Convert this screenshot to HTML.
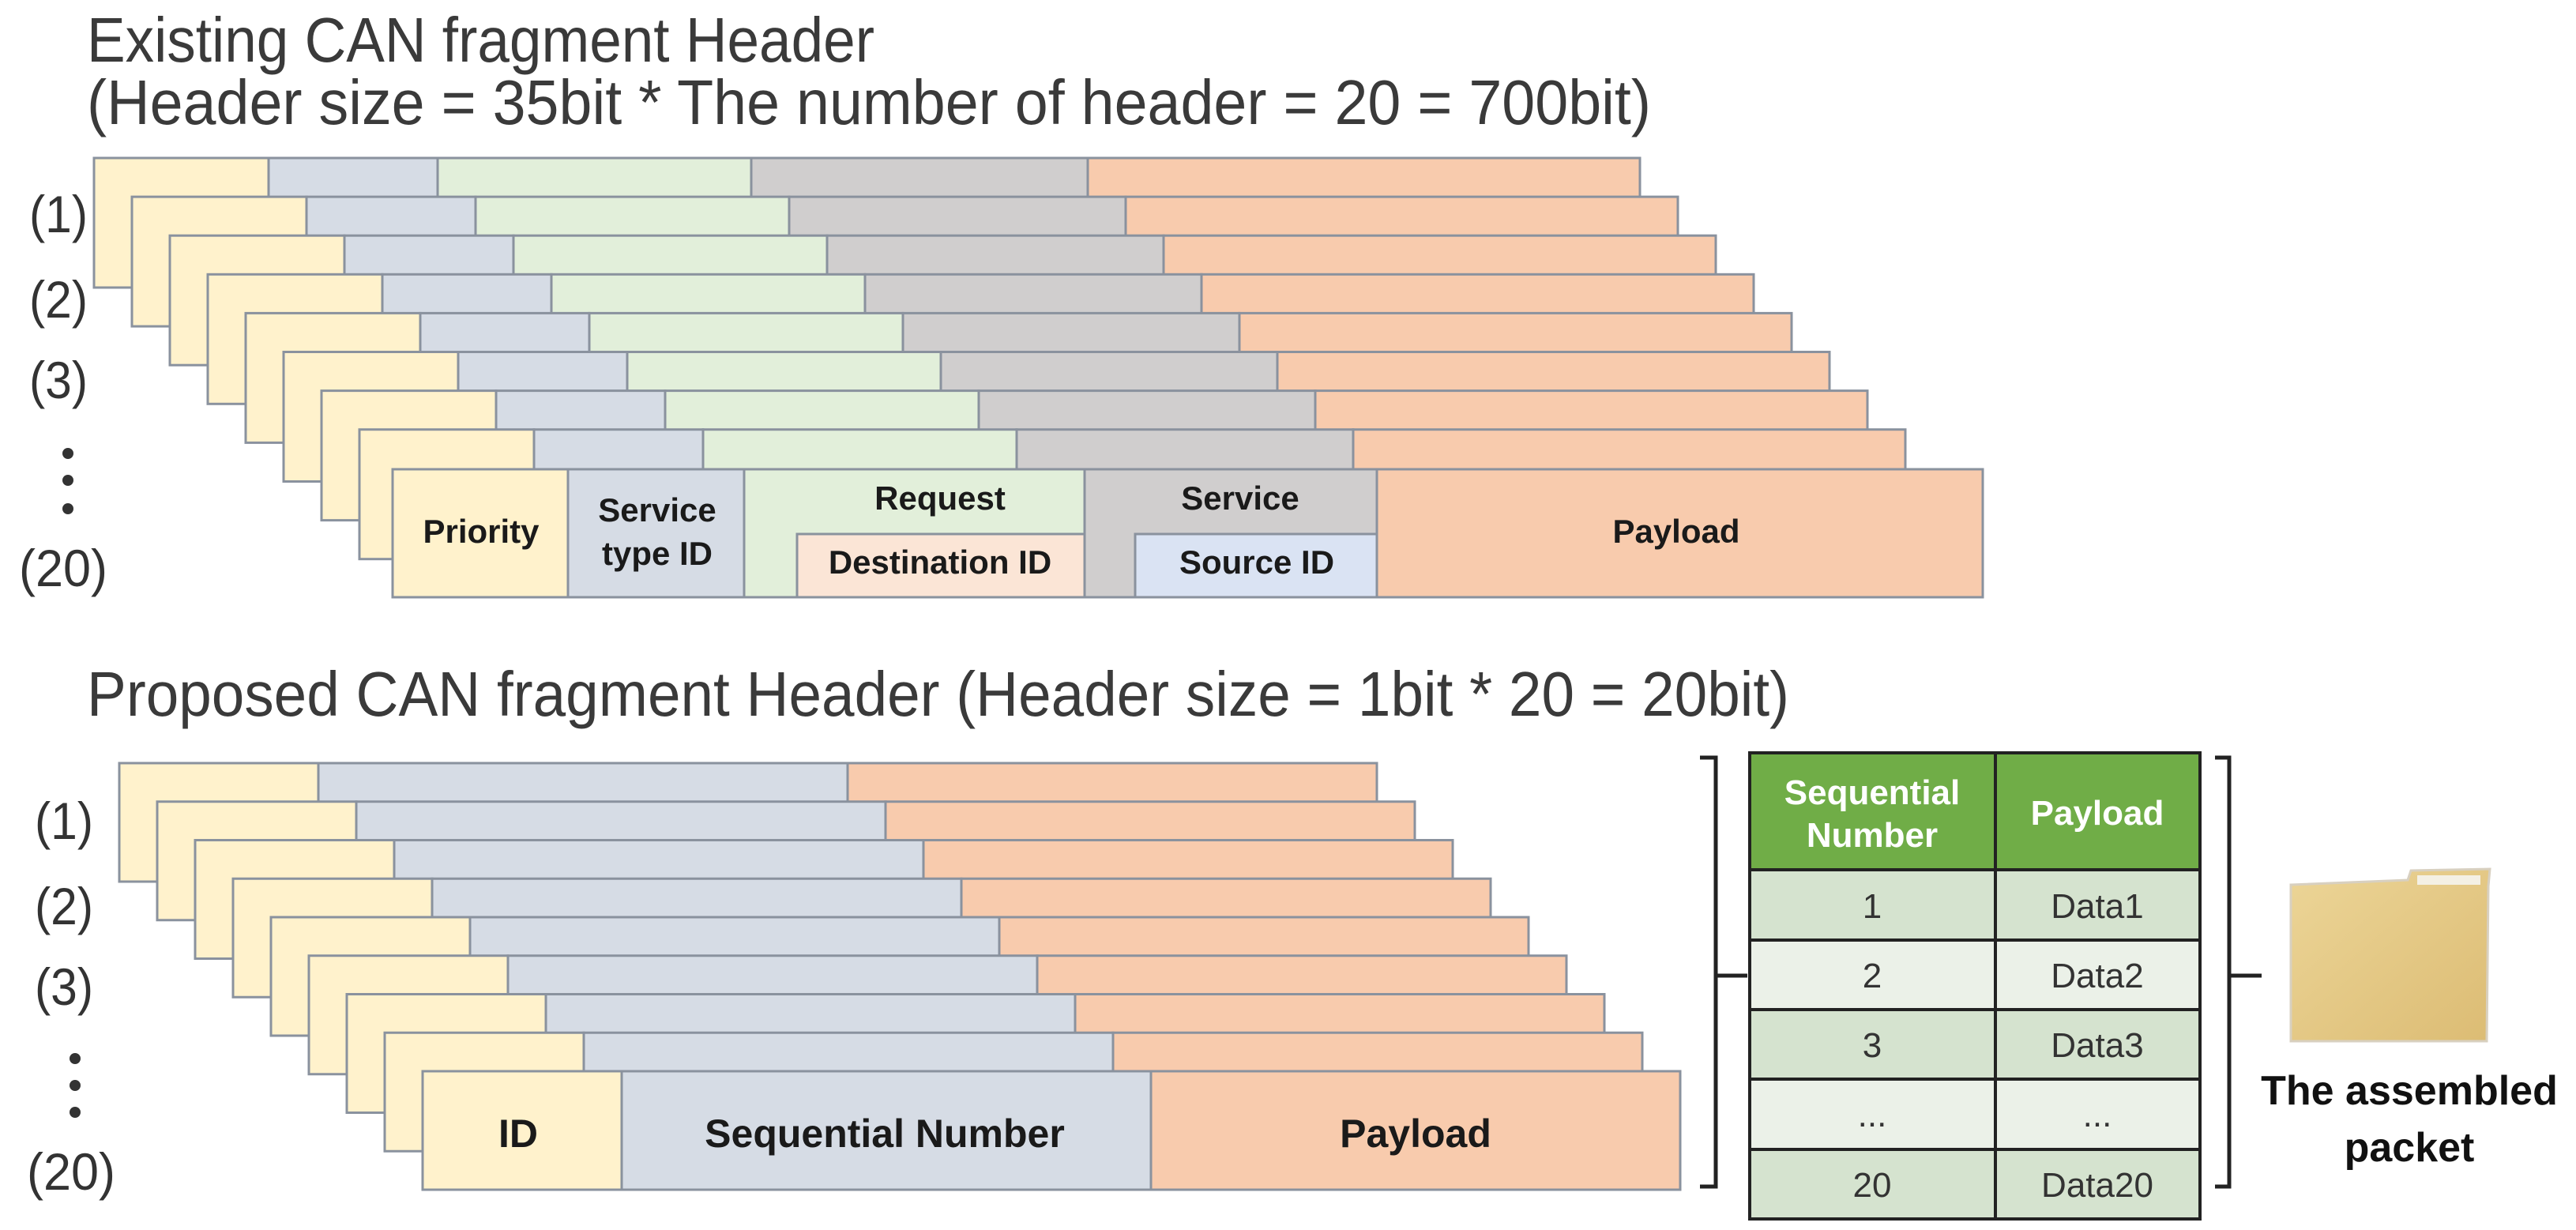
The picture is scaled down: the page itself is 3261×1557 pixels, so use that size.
<!DOCTYPE html>
<html><head><meta charset="utf-8"><style>
html,body{margin:0;padding:0;background:#fff;}
svg{display:block;}
text{font-family:"Liberation Sans",sans-serif;}
</style></head><body>
<svg width="3261" height="1557" viewBox="0 0 3261 1557" xmlns="http://www.w3.org/2000/svg">
<defs>
<linearGradient id="fold" x1="0" y1="0" x2="1" y2="1">
<stop offset="0" stop-color="#ecd597"/><stop offset="1" stop-color="#dcbc74"/>
</linearGradient>
</defs>
<g fill="#3a3a3a" font-size="80">
<text x="110" y="78" textLength="997" lengthAdjust="spacingAndGlyphs">Existing CAN fragment Header</text>
<text x="110" y="157" textLength="1980" lengthAdjust="spacingAndGlyphs">(Header size = 35bit * The number of header = 20 = 700bit)</text>
<text x="110" y="906" textLength="2155" lengthAdjust="spacingAndGlyphs">Proposed CAN fragment Header (Header size = 1bit * 20 = 20bit)</text>
</g>
<g fill="#333" font-size="66" text-anchor="middle">
<text x="74" y="294" textLength="74" lengthAdjust="spacingAndGlyphs">(1)</text><text x="74" y="402" textLength="74" lengthAdjust="spacingAndGlyphs">(2)</text><text x="74" y="504" textLength="74" lengthAdjust="spacingAndGlyphs">(3)</text><text x="80" y="742" textLength="112" lengthAdjust="spacingAndGlyphs">(20)</text>
<circle cx="86" cy="574" r="7"/><circle cx="86" cy="608" r="7"/><circle cx="86" cy="644" r="7"/>
<text x="81" y="1062" textLength="74" lengthAdjust="spacingAndGlyphs">(1)</text><text x="81" y="1170" textLength="74" lengthAdjust="spacingAndGlyphs">(2)</text><text x="81" y="1272" textLength="74" lengthAdjust="spacingAndGlyphs">(3)</text><text x="90" y="1506" textLength="112" lengthAdjust="spacingAndGlyphs">(20)</text>
<circle cx="95" cy="1340" r="7"/><circle cx="95" cy="1374" r="7"/><circle cx="95" cy="1408" r="7"/>
</g>
<g id="top" stroke="#8a929e" stroke-width="3">
</g>
<script>
(function(){
var NS="http://www.w3.org/2000/svg",g=document.getElementById("top");
function r(x,y,w,h,f){var e=document.createElementNS(NS,"rect");e.setAttribute("x",x);e.setAttribute("y",y);e.setAttribute("width",w);e.setAttribute("height",h);e.setAttribute("fill",f);g.appendChild(e);}
var c1=["#fff2cc","#d6dce5","#e2efda","#d0cece","#f8cbad"],w1=[221,214,397,426,699];
for(var k=0;k<8;k++){var x=119+48*k,y=200+49.1*k;for(var i=0;i<5;i++){r(x,y,w1[i],164,c1[i]);x+=w1[i];}}
var xs=[497,719,942,1373,1743,2510];
for(var i=0;i<5;i++)r(xs[i],594,xs[i+1]-xs[i],162,c1[i]);
r(1009,676,364,80,"#fbe5d6");r(1437,676,306,80,"#dae3f3");
var c2=["#fff2cc","#d6dce5","#f8cbad"],w2=[252,670,670];
for(var k=0;k<9;k++){var x=151+48*k,y=966+48.75*k;for(var i=0;i<3;i++){r(x,y,w2[i],150,c2[i]);x+=w2[i];}}
})();
</script>
<g fill="#1a1a1a" font-size="42" font-weight="bold" text-anchor="middle">
<text x="609" y="687">Priority</text>
<text x="832" y="660">Service</text><text x="832" y="715">type ID</text>
<text x="1190" y="645">Request</text><text x="1190" y="726">Destination ID</text>
<text x="1570" y="645">Service</text><text x="1591" y="726">Source ID</text>
<text x="2122" y="687">Payload</text>
</g>
<g fill="#1a1a1a" font-size="50" font-weight="bold" text-anchor="middle">
<text x="656" y="1452">ID</text><text x="1120" y="1452">Sequential Number</text><text x="1792" y="1452">Payload</text>
</g>
<g fill="none" stroke="#222" stroke-width="5">
<path d="M2152 959 H2172 V1502 H2152 M2172 1235 H2212"/>
<path d="M2804 959 H2822 V1502 H2804 M2822 1235 H2863"/>
</g>
<g stroke="#222" stroke-width="4">
<rect x="2215" y="953" width="570" height="148" fill="#70ad47"/>
<rect x="2215" y="1101" width="570" height="89" fill="#d5e3cf"/>
<rect x="2215" y="1190" width="570" height="88" fill="#ebf1e8"/>
<rect x="2215" y="1278" width="570" height="88" fill="#d5e3cf"/>
<rect x="2215" y="1366" width="570" height="89" fill="#ebf1e8"/>
<rect x="2215" y="1455" width="570" height="88" fill="#d5e3cf"/>
<line x1="2526" y1="953" x2="2526" y2="1543"/>
</g>
<g fill="#fff" font-size="44" font-weight="bold" text-anchor="middle">
<text x="2370" y="1018">Sequential</text><text x="2370" y="1072">Number</text>
<text x="2655" y="1044">Payload</text>
</g>
<g fill="#333" font-size="44" text-anchor="middle">
<text x="2370" y="1162">1</text><text x="2655" y="1162">Data1</text>
<text x="2370" y="1250">2</text><text x="2655" y="1250">Data2</text>
<text x="2370" y="1338">3</text><text x="2655" y="1338">Data3</text>
<text x="2370" y="1426">...</text><text x="2655" y="1426">...</text>
<text x="2370" y="1515">20</text><text x="2655" y="1515">Data20</text>
</g>
<path d="M2900 1120 L3048 1114 L3052 1102 L3152 1100 L3150 1122 L3148 1318 L2900 1318 Z" fill="url(#fold)" stroke="#d8d0c0" stroke-width="3"/>
<rect x="3060" y="1108" width="80" height="12" fill="#f4f0e4"/>
<g fill="#111" font-size="52" font-weight="bold" text-anchor="middle">
<text x="3050" y="1398">The assembled</text><text x="3050" y="1470">packet</text>
</g>
</svg>
</body></html>
